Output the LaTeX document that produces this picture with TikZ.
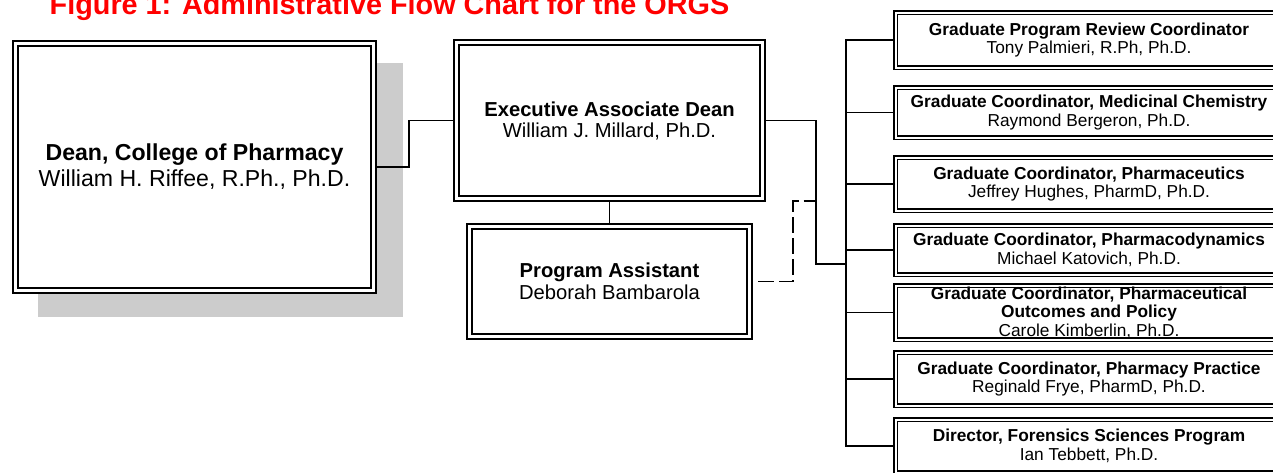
\documentclass[tikz,border=0pt]{standalone}
\usepackage{fontspec}
\setmainfont{Liberation Sans}
\usetikzlibrary{backgrounds}
\definecolor{shadegray}{RGB}{204,204,204}
\definecolor{titlered}{RGB}{255,0,0}
\tikzset{
  bigbox/.style={draw=black, line width=1.8pt, double=white, double distance=3pt,
    inner sep=0pt, outer sep=3.3pt, align=center, fill=white},
  rbox/.style={draw=black, line width=1.5pt, double=white, double distance=2pt,
    inner sep=0pt, outer sep=2.5pt, align=center, fill=white,
    minimum width=387pt, font=\fontsize{17.3}{18.5}\selectfont},
  conn/.style={draw=black, line width=1.6pt},
  dashconn/.style={draw=black, line width=1.6pt, dash pattern=on 16pt off 5pt, dash phase=16pt},
  titletext/.style={text=titlered, font=\fontsize{28.8}{30}\selectfont\bfseries, inner sep=0pt}
}
\begin{document}
\begin{tikzpicture}[x=1pt,y=-1pt]
\useasboundingbox (0,0) rectangle (1273,472);
\clip (0,0) rectangle (1273,472);

\node[titletext, anchor=base] (title) at (389.5,14) {Figure 1: Administrative Flow Chart for the ORGS};

\node[bigbox, minimum width=358.4pt, minimum height=247.4pt,
  font=\fontsize{23.1}{26}\selectfont] (dean) at (194.5,167)
  {\textbf{Dean, College of Pharmacy}\\William H. Riffee, R.Ph., Ph.D.};
\begin{scope}[on background layer]
  \fill[shadegray] ([shift={(25.5,22.5)}]dean.north west) rectangle ([shift={(25.5,22.5)}]dean.south east);
\end{scope}

\node[bigbox, minimum width=306.4pt, minimum height=156.4pt,
  font=\fontsize{20.2}{21}\selectfont] (ead) at (609.5,120.5)
  {\textbf{Executive Associate Dean}\\William J. Millard, Ph.D.};

\node[bigbox, minimum width=280.4pt, minimum height=110.4pt,
  font=\fontsize{20.2}{22}\selectfont] (pa) at (609.5,281.5)
  {\textbf{Program Assistant}\\Deborah Bambarola};

\node[rbox, minimum height=55pt] (r1) at (1089,40)
  {\textbf{Graduate Program Review Coordinator}\\Tony Palmieri, R.Ph, Ph.D.};
\node[rbox, minimum height=50pt] (r2) at (1089,112.5)
  {\textbf{Graduate Coordinator, Medicinal Chemistry}\\Raymond Bergeron, Ph.D.};
\node[rbox, minimum height=53pt] (r3) at (1089,184)
  {\textbf{Graduate Coordinator, Pharmaceutics}\\Jeffrey Hughes, PharmD, Ph.D.};
\node[rbox, minimum height=49pt] (r4) at (1089,250)
  {\textbf{Graduate Coordinator, Pharmacodynamics}\\Michael Katovich, Ph.D.};
\node[rbox, minimum height=54pt] (r5) at (1089,312.5)
  {\textbf{Graduate Coordinator, Pharmaceutical}\\\textbf{Outcomes and Policy}\\Carole Kimberlin, Ph.D.};
\node[rbox, minimum height=53pt] (r6) at (1089,379)
  {\textbf{Graduate Coordinator, Pharmacy Practice}\\Reginald Frye, PharmD, Ph.D.};
\node[rbox, minimum height=53pt] (r7) at (1089,446)
  {\textbf{Director, Forensics Sciences Program}\\Ian Tebbett, Ph.D.};

\coordinate (hub) at (846,264);
\coordinate (j) at (816,264);
\coordinate (dk) at (793,201);
\coordinate (dj) at (816,201);

\draw[conn] (dean.east) -- ++(32,0) |- (ead.west);
\draw[conn] (ead.south) -- (pa.north);
\draw[conn] (ead.east) -| (j) -- (hub);
\foreach \r in {r1,r2,r3,r4,r5,r6,r7}
  \draw[conn] (hub) |- (\r.west);
\draw[dashconn] (pa.east) -| (dk) -- (dj);
\end{tikzpicture}
\end{document}
